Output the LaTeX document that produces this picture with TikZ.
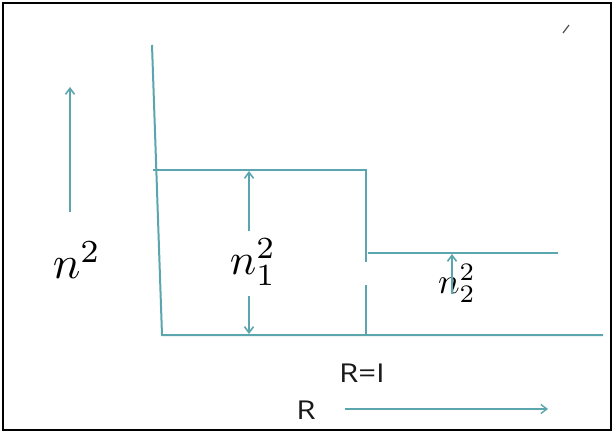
\documentclass[tikz,border=0pt]{standalone}
\usepackage{fontspec}
\newfontfamily\labelfont{Open Sans}
\usetikzlibrary{arrows.meta}
\definecolor{teal1}{HTML}{5BA5AE}
\tikzset{
  wall/.style={draw=teal1, line width=2pt},
  arr/.style={draw=teal1, line width=1.6pt, -{Straight Barb[length=6pt,width=9pt]}},
  mathlbl/.style={inner sep=0pt},
  txt/.style={inner sep=0pt, font=\labelfont\fontsize{26}{30}\selectfont, text=black!90, xscale=1.2},
}
\begin{document}
\begin{tikzpicture}[x=1pt,y=-1pt]
\useasboundingbox (0,0) rectangle (614,433);
\draw[black, line width=1.5pt] (3,3) rectangle (611,430);
% coordinates
\coordinate (wtop) at (152,45);
\coordinate (corner) at (162,335);
\coordinate (bend) at (603,335);
\coordinate (s1l) at (153,170);
\coordinate (s1r) at (366,170);
\coordinate (s1g) at (366,262);
\coordinate (s1h) at (366,285);
\coordinate (s1b) at (366,335);
\coordinate (s2l) at (368,253);
\coordinate (s2r) at (558,253);
% profile
\draw[wall] (wtop) -- (corner) -- (bend);
\draw[wall] (s1l) -- (s1r) -- (s1g);
\draw[wall] (s1h) -- (s1b);
\draw[wall] (s2l) -- (s2r);
% labels
\node[mathlbl] (n) at (77,260) {\scalebox{4.6}{$n^2$}};
\node[mathlbl] (n1) at (253,262) {\scalebox{4.4}{$n_1^2$}};
\node[mathlbl] (n2) at (457,283) {\scalebox{3.6}{$n_2^2$}};
\coordinate (na) at (70,212);
\coordinate (nb) at (70,87);
\draw[arr] (na) -- (nb);
\coordinate (n1a) at (249,231);
\coordinate (n1b) at (249,171);
\coordinate (n1c) at (249,296);
\coordinate (n1d) at (249,334);
\draw[arr] (n1a) -- (n1b);
\draw[arr] (n1c) -- (n1d);
\coordinate (n2a) at (452,294);
\coordinate (n2b) at (452,254);
\draw[arr] (n2a) -- (n2b);
\node[txt] (RI) at (362,373) {R=I};
\node[txt] (R) at (306,410) {R};
\coordinate (ra) at (345,409);
\coordinate (rb) at (548,409);
\draw[arr, line width=1.4pt] (ra) -- (rb);
% stray mark
\coordinate (m1) at (563,33);
\coordinate (m2) at (569,25);
\draw[black!70, line width=1.2pt] (m1) -- (m2);
\end{tikzpicture}
\end{document}
